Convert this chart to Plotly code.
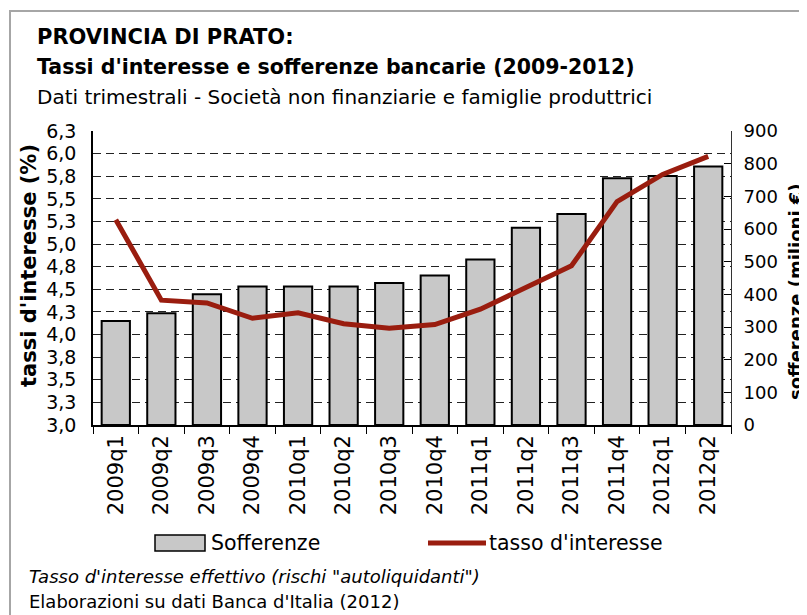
import plotly.graph_objects as go

# ---------------- data ----------------
quarters = ["2009q1", "2009q2", "2009q3", "2009q4", "2010q1", "2010q2", "2010q3",
            "2010q4", "2011q1", "2011q2", "2011q3", "2011q4", "2012q1", "2012q2"]
sofferenze = [318, 342, 400, 424, 424, 424, 435, 458, 507, 604, 646, 755, 762, 791]
tasso = [5.27, 4.38, 4.35, 4.18, 4.24, 4.12, 4.07, 4.11, 4.28, 4.52, 4.76, 5.47, 5.77, 5.97]

left_tickvals = [3.0, 3.25, 3.5, 3.75, 4.0, 4.25, 4.5, 4.75, 5.0, 5.25, 5.5, 5.75, 6.0, 6.25]
left_ticktext = ["3,0", "3,3", "3,5", "3,8", "4,0", "4,3", "4,5", "4,8", "5,0", "5,3",
                 "5,5", "5,8", "6,0", "6,3"]
right_tickvals = [0, 100, 200, 300, 400, 500, 600, 700, 800, 900]

# ---------------- geometry helpers ----------------
OFF = 8  # default body margin of the page
W, H = 807 - OFF, 615 - OFF
L, R, T, B = 93, 731, 131, 425  # plot area in window pixels
PW, PH = R - L, B - T


def px(x):
    return (x - L) / PW


def py(y):
    return (B - y) / PH


FONT = "DejaVu Sans"
BAR_FILL = "#c8c8c8"
LINE_COL = "#9a1d0f"

fig = go.Figure()

fig.add_trace(go.Bar(
    x=quarters, y=sofferenze, name="Sofferenze",
    marker=dict(color=BAR_FILL, line=dict(color="black", width=2)),
    yaxis="y", showlegend=False,
))
fig.add_trace(go.Scatter(
    x=quarters, y=tasso, name="tasso d'interesse", mode="lines",
    line=dict(color=LINE_COL, width=5),
    yaxis="y2", showlegend=False,
))

fig.update_layout(
    width=W, height=H,
    margin=dict(l=L - OFF, r=807 - R, t=T - OFF, b=615 - B, pad=0),
    paper_bgcolor="white", plot_bgcolor="white",
    bargap=0.38,
    font=dict(family=FONT, size=18, color="black"),
    xaxis=dict(
        type="category", tickangle=-90, tickson="boundaries",
        ticks="outside", ticklen=7, tickcolor="black", tickwidth=1,
        showline=True, linecolor="black", linewidth=1.5,
        showgrid=False, tickfont=dict(size=21, family=FONT),
    ),
    yaxis=dict(
        side="right", range=[0, 900], tickvals=right_tickvals,
        ticks="inside", ticklen=7, tickcolor="black",
        showline=True, linecolor="#333333", linewidth=1,
        showgrid=False, zeroline=False,
        tickfont=dict(size=18, family=FONT),
        ticklabelstandoff=8,
    ),
    yaxis2=dict(
        overlaying="y", side="left", range=[3.0, 6.2505],
        tickvals=left_tickvals, ticktext=left_ticktext,
        ticks="", showline=True, linecolor="black", linewidth=1.5,
        showgrid=True, gridcolor="#222222", gridwidth=1, griddash="8px,5px",
        zeroline=False, tickfont=dict(size=19, family=FONT),
        ticklabelstandoff=11,
    ),
)

ann = []
ann.append(dict(text="<b>PROVINCIA DI PRATO:</b>", x=px(35), y=py(37),
                font=dict(size=21, family=FONT)))
ann.append(dict(text="<b>Tassi d'interesse e sofferenze bancarie (2009-2012)</b>", x=px(35), y=py(67),
                font=dict(size=20.5, family=FONT)))
ann.append(dict(text="Dati trimestrali - Società non finanziarie e famiglie produttrici", x=px(35), y=py(97),
                font=dict(size=20, family=FONT)))
ann.append(dict(text="Sofferenze", x=px(209), y=py(543), font=dict(size=20.5, family=FONT)))
ann.append(dict(text="tasso d'interesse", x=px(487), y=py(543), font=dict(size=20.5, family=FONT)))
ann.append(dict(text="<i>Tasso d'interesse effettivo (rischi \"autoliquidanti\")</i>", x=px(27), y=py(576),
                font=dict(size=18, family=FONT)))
ann.append(dict(text="Elaborazioni su dati Banca d'Italia (2012)", x=px(27), y=py(601),
                font=dict(size=18, family=FONT)))
annotations = [dict(a, xref="paper", yref="paper", xanchor="left", yanchor="middle", showarrow=False)
               for a in ann]
annotations.append(dict(text="<b>tassi d'interesse (%)</b>", x=px(29), y=py(266), textangle=-90,
                        xref="paper", yref="paper", xanchor="center", yanchor="middle",
                        showarrow=False, font=dict(size=21, family=FONT)))
annotations.append(dict(text="<b>sofferenze (milioni €)</b>", x=px(795), y=py(292), textangle=-90,
                        xref="paper", yref="paper", xanchor="center", yanchor="middle",
                        showarrow=False, font=dict(size=18, family=FONT)))
fig.update_layout(annotations=annotations)

shapes = [
    # outer frame
    dict(type="rect", xref="paper", yref="paper", x0=px(10), x1=px(830), y0=py(640), y1=py(11),
         line=dict(color="#a6a6a6", width=2), fillcolor="rgba(0,0,0,0)", layer="below"),
    # legend: bar swatch
    dict(type="rect", xref="paper", yref="paper", x0=px(155), x1=px(205), y0=py(551), y1=py(535),
         line=dict(color="black", width=1.5), fillcolor=BAR_FILL),
    # legend: line swatch
    dict(type="line", xref="paper", yref="paper", x0=px(428), x1=px(486), y0=py(543), y1=py(543),
         line=dict(color=LINE_COL, width=5)),
]
fig.update_layout(shapes=shapes)

fig.write_html("out.html")
